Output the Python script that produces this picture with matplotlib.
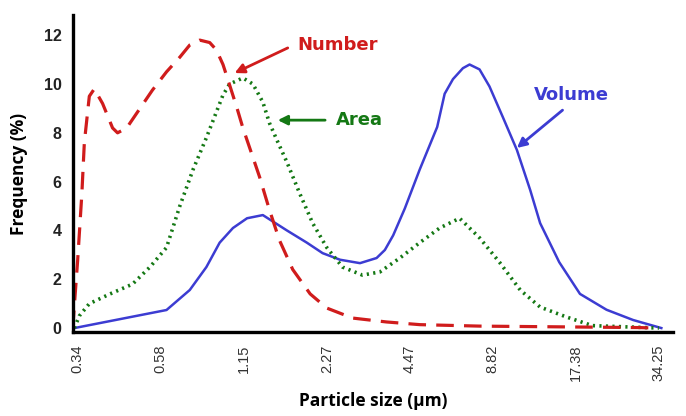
import matplotlib
matplotlib.use("Agg")
import matplotlib.pyplot as plt

# Tick categories (equally spaced particle size classes, um)
size_labels = ["0.34", "0.58", "1.15", "2.27", "4.47", "8.82", "17.38", "34.25"]
freq_ticks = [0, 2, 4, 6, 8, 10, 12]

# Curves, x given in class-index units
number_x = [-0.06, 0.0, 0.05, 0.08, 0.14, 0.2, 0.3, 0.42, 0.48, 0.59, 0.75, 0.9, 1.07,
            1.23, 1.35, 1.47, 1.59, 1.67, 1.75, 1.83, 1.92, 1.99, 2.05, 2.19, 2.31,
            2.43, 2.59, 2.8, 3.0, 3.31, 3.72, 4.12, 4.84, 5.8, 6.77, 6.95]
number_y = [0.0, 2.8, 5.5, 7.6, 9.5, 9.8, 9.2, 8.2, 8.0, 8.2, 9.0, 9.75, 10.5,
            11.1, 11.6, 11.8, 11.7, 11.4, 10.8, 9.96, 9.0, 8.2, 7.6, 6.2, 4.84,
            3.6, 2.4, 1.4, 0.82, 0.41, 0.25, 0.14, 0.08, 0.05, 0.02, 0.0]

area_x = [-0.04, 0.02, 0.14, 0.39, 0.66, 0.87, 1.07, 1.23, 1.39, 1.55, 1.67, 1.75, 1.83,
          1.99, 2.11, 2.23, 2.31, 2.4, 2.52, 2.67, 2.83, 3.0, 3.19, 3.43, 3.64, 3.88,
          4.12, 4.36, 4.6, 4.84, 5.08, 5.33, 5.57, 5.89, 6.2, 7.0]
area_y = [0.0, 0.5, 1.0, 1.4, 1.8, 2.5, 3.3, 5.0, 6.5, 7.8, 8.85, 9.55, 10.0,
          10.25, 10.0, 9.26, 8.4, 7.7, 6.8, 5.55, 4.3, 3.3, 2.5, 2.17, 2.3, 2.87,
          3.5, 4.1, 4.5, 3.7, 2.7, 1.56, 0.86, 0.45, 0.1, 0.0]

volume_x = [-0.04, 1.07, 1.35, 1.55, 1.71, 1.87, 2.04, 2.23, 2.52, 2.76, 2.95, 3.16, 3.4,
            3.6, 3.7, 3.8, 3.94, 4.12, 4.33, 4.42, 4.52, 4.64, 4.72, 4.84, 4.96, 5.12,
            5.29, 5.45, 5.57, 5.8, 6.05, 6.37, 6.69, 7.03]
volume_y = [0.0, 0.74, 1.56, 2.5, 3.5, 4.1, 4.5, 4.63, 4.0, 3.5, 3.07, 2.8, 2.66,
            2.87, 3.2, 3.8, 4.9, 6.5, 8.24, 9.6, 10.2, 10.65, 10.8, 10.6, 9.9, 8.65,
            7.3, 5.66, 4.3, 2.7, 1.4, 0.75, 0.33, 0.0]

red = "#d01c1c"
green = "#147814"
blue = "#3c3cd2"

fig = plt.figure(figsize=(6.86, 4.16), dpi=100)
ax = fig.add_axes([0.106, 0.202, 0.875, 0.762])

ax.plot(volume_x, volume_y, color=blue, lw=1.8, solid_joinstyle="round")
ax.plot(area_x, area_y, color=green, lw=2.6, linestyle=(0, (0.6, 1.2)),
        dash_capstyle="butt")
ax.plot(number_x, number_y, color=red, lw=2.3, linestyle=(0, (5.5, 3.2)),
        dash_joinstyle="round")

ax.set_xlim(-0.06, 7.17)
ax.set_ylim(-0.16, 12.83)

ax.set_xticks(range(len(size_labels)))
ax.set_xticklabels(size_labels, rotation=90, fontsize=10.5, color="#333333",
                   family="Liberation Sans")
ax.set_yticks(freq_ticks)
ax.set_yticklabels([str(t) for t in freq_ticks], fontsize=11.5, fontweight="bold",
                   family="Liberation Sans", color="#222222")
ax.tick_params(axis="both", length=0)
ax.tick_params(axis="x", pad=9)
ax.tick_params(axis="y", pad=8)

for s in ["top", "right"]:
    ax.spines[s].set_visible(False)
for s in ["left", "bottom"]:
    ax.spines[s].set_linewidth(2.4)
    ax.spines[s].set_color("black")

ax.set_ylabel("Frequency (%)", fontsize=12.5, fontweight="bold", family="Open Sans",
              labelpad=11)
ax.set_xlabel("Particle size (\u03bcm)", fontsize=12.5, fontweight="bold",
              family="Open Sans", labelpad=8)

# Annotations
ax.text(3.13, 11.6, "Number", color=red, fontsize=13, fontweight="bold",
        ha="center", va="center")
ax.annotate("", xy=(1.89, 10.45), xytext=(2.53, 11.48),
            arrowprops=dict(arrowstyle="-|>", color=red, lw=2, mutation_scale=14,
                            shrinkA=0, shrinkB=0))
ax.text(3.39, 8.52, "Area", color=green, fontsize=13, fontweight="bold",
        ha="center", va="center")
ax.annotate("", xy=(2.41, 8.52), xytext=(2.98, 8.52),
            arrowprops=dict(arrowstyle="-|>", color=green, lw=2, mutation_scale=14,
                            shrinkA=0, shrinkB=0))
ax.text(5.95, 9.55, "Volume", color=blue, fontsize=13, fontweight="bold",
        ha="center", va="center")
ax.annotate("", xy=(5.29, 7.38), xytext=(5.84, 8.93),
            arrowprops=dict(arrowstyle="-|>", color=blue, lw=2, mutation_scale=14,
                            shrinkA=0, shrinkB=0))

fig.savefig("out.png", dpi=100)
